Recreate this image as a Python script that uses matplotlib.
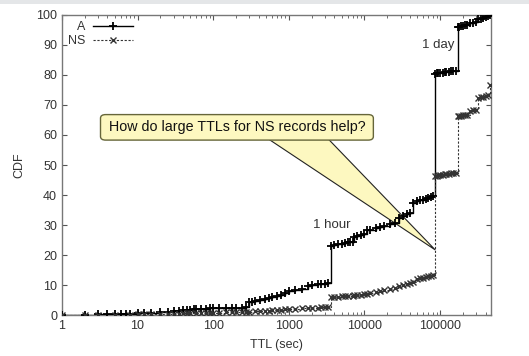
import numpy as np
import matplotlib
matplotlib.use('Agg')
import matplotlib.pyplot as plt
from matplotlib.patches import FancyBboxPatch, Polygon, Rectangle

plt.rcParams['font.family'] = ['Liberation Sans', 'DejaVu Sans']

# TTL (sec) and CDF (%) of A records
a_ttl = [1, 2, 3, 4, 5, 6, 7, 8, 10, 12, 15, 20, 25, 30, 35, 40, 45, 50, 55,
         60, 70, 80, 90, 100, 120, 150, 180, 200, 240, 270, 300, 330, 360,
         420, 480, 540, 600, 700, 800, 900, 1000, 1200, 1500, 1800, 2000,
         2400, 2700, 3000, 3300, 3600, 4000, 4500, 5000, 5500, 6000, 6500,
         7000, 7200, 8000, 9000, 10000, 10800, 12000, 14400, 16000, 18000,
         21600, 25000, 28800, 32000, 36000, 40000, 43200, 50000, 55000,
         60000, 65000, 70000, 75000, 80000, 86400, 90000, 95000, 100000,
         108000, 115000, 120000, 129600, 140000, 150000, 160000, 172800,
         180000, 190000, 200000, 216000, 230000, 250000, 270000, 300000,
         320000, 345600, 370000, 400000, 432000, 460000]
a_cdf = [0.1, 0.15, 0.2, 0.25, 0.3, 0.3, 0.35, 0.4, 0.6, 0.7, 0.8, 0.9, 1.0,
         1.2, 1.4, 1.6, 1.7, 1.8, 1.9, 2.0, 2.1, 2.1, 2.2, 2.3, 2.3, 2.4,
         2.4, 2.5, 2.5, 2.6, 4.3, 4.5, 4.8, 5.0, 5.2, 5.6, 6.0, 6.3, 6.8, 7.3,
         8.0, 8.3, 8.6, 9.8, 10.0, 10.2, 10.4, 10.5, 10.7, 23.0, 23.3, 23.6,
         23.8, 24.0, 24.2, 24.4, 24.5, 26.0, 26.3, 26.6, 27.0, 28.2, 28.5,
         28.9, 29.2, 29.6, 30.2, 30.8, 32.5, 33.0, 33.6, 34.0, 37.5, 37.9,
         38.2, 38.5, 38.8, 39.1, 39.4, 39.7, 80.4, 80.5, 80.6, 80.7, 80.8,
         80.9, 81.0, 81.1, 81.2, 81.3, 81.4, 96.0, 96.1, 96.2, 96.3, 96.5,
         96.8, 97.2, 97.4, 97.6, 98.5, 98.7, 99.0, 99.2, 99.5, 100.0]

# TTL (sec) and CDF (%) of NS records
ns_ttl = [1, 2, 3, 5, 8, 10, 12, 15, 20, 25, 30, 35, 40, 45, 50, 60, 70, 80,
          90, 100, 120, 150, 180, 200, 240, 270, 300, 360, 420, 480, 540,
          600, 700, 800, 900, 1000, 1200, 1500, 1800, 2000, 2400, 2700, 3000,
          3300, 3600, 4000, 4500, 5000, 5500, 6000, 7000, 7200, 8000, 9000,
          10000, 10800, 12000, 14400, 16000, 18000, 21600, 25000, 28800,
          32000, 36000, 40000, 43200, 50000, 55000, 60000, 65000, 70000,
          75000, 80000, 86400, 90000, 95000, 100000, 108000, 115000, 120000,
          129600, 140000, 150000, 160000, 172800, 180000, 190000, 200000,
          216000, 230000, 250000, 270000, 300000, 320000, 345600, 370000,
          400000, 432000, 460000]
ns_cdf = [0.05, 0.05, 0.1, 0.1, 0.15, 0.2, 0.25, 0.3, 0.35, 0.4, 0.45, 0.5,
          0.55, 0.6, 0.6, 0.65, 0.7, 0.7, 0.75, 0.8, 0.85, 0.9, 0.95, 1.0,
          1.0, 1.05, 1.1, 1.2, 1.3, 1.4, 1.5, 1.6, 1.7, 1.8, 1.9, 2.0, 2.1,
          2.2, 2.3, 2.4, 2.5, 2.6, 2.6, 2.7, 5.9, 6.0, 6.1, 6.2, 6.3, 6.4,
          6.5, 6.6, 6.7, 6.8, 6.9, 7.0, 7.3, 7.8, 8.0, 8.3, 8.6, 9.0, 9.6,
          10.0, 10.4, 10.8, 11.0, 12.0, 12.3, 12.5, 12.7, 12.9, 13.1, 13.3,
          46.4, 46.5, 46.6, 46.7, 46.8, 46.9, 47.0, 47.1, 47.2, 47.3, 47.4,
          66.2, 66.3, 66.4, 66.5, 66.6, 66.8, 68.0, 68.2, 68.4, 72.4, 72.6,
          72.8, 73.0, 73.2, 76.5]

xmax = 470000

fig = plt.figure(figsize=(5.29, 3.56), dpi=100)
fig.patches.append(Rectangle((0, 0.988), 1, 0.012, transform=fig.transFigure,
                             facecolor='#e4e6e8', edgecolor='none'))
ax = fig.add_axes([0.117, 0.115, 0.811, 0.843])

ax.plot(a_ttl, a_cdf, color='black', lw=1.0, marker='+', ms=6, mew=1.3,
        drawstyle='steps-post', label='A', zorder=3)
ax.plot(ns_ttl, ns_cdf, color='#333333', lw=0.8, ls=(0, (2, 1.5)), marker='x',
        ms=4.5, mew=1.0, drawstyle='steps-post', label='NS', zorder=3)

ax.set_xscale('log')
ax.set_xlim(1, xmax)
ax.set_ylim(0, 100)
ax.set_yticks(range(0, 101, 10))
ax.set_xticks([1, 10, 100, 1000, 10000, 100000])
ax.set_xticklabels(['1', '10', '100', '1000', '10000', '100000'])
ax.tick_params(which='both', direction='in', top=True, right=True,
               labelsize=9, labelcolor='#333333', color='#555555')
ax.tick_params(which='major', length=3.5)
ax.tick_params(which='minor', length=2)
for s in ax.spines.values():
    s.set_color('#777777')
    s.set_linewidth(1.0)

ax.set_xlabel('TTL (sec)', fontsize=9, color='#333333', labelpad=5)
ax.set_ylabel('CDF', fontsize=9, color='#333333', labelpad=8)

leg = ax.legend(loc='upper left', frameon=False, markerfirst=False,
                fontsize=9, handlelength=3.2, handletextpad=0.6,
                borderaxespad=0.1, labelspacing=0.15)
for t in leg.get_texts():
    t.set_color('#333333')

ax.text(0.63, 0.30, '1 hour', transform=ax.transAxes,
        fontsize=9.5, color='#333333', ha='center', va='center')
ax.text(0.876, 0.90, '1 day', transform=ax.transAxes,
        fontsize=9.5, color='#333333', ha='center', va='center')

# callout
tip_x = np.log10(86400) / np.log10(xmax)
tip_y = 21.7 / 100
wedge = Polygon([(0.480, 0.588), (0.620, 0.588), (tip_x, tip_y)],
                closed=True, transform=ax.transAxes, facecolor='#fdf8c0',
                edgecolor='#222222', lw=0.8, zorder=2)
ax.add_patch(wedge)
box = FancyBboxPatch((0.090, 0.583), 0.636, 0.085,
                     boxstyle='round,pad=0,rounding_size=0.012',
                     transform=ax.transAxes, facecolor='#fdf8c0',
                     edgecolor='#66663a', lw=1.0, zorder=4)
ax.add_patch(box)
ax.text(0.408, 0.626, 'How do large TTLs for NS records help?',
        transform=ax.transAxes, fontsize=10.3, color='#111111',
        ha='center', va='center', zorder=5)

fig.savefig('out.png', dpi=100)
